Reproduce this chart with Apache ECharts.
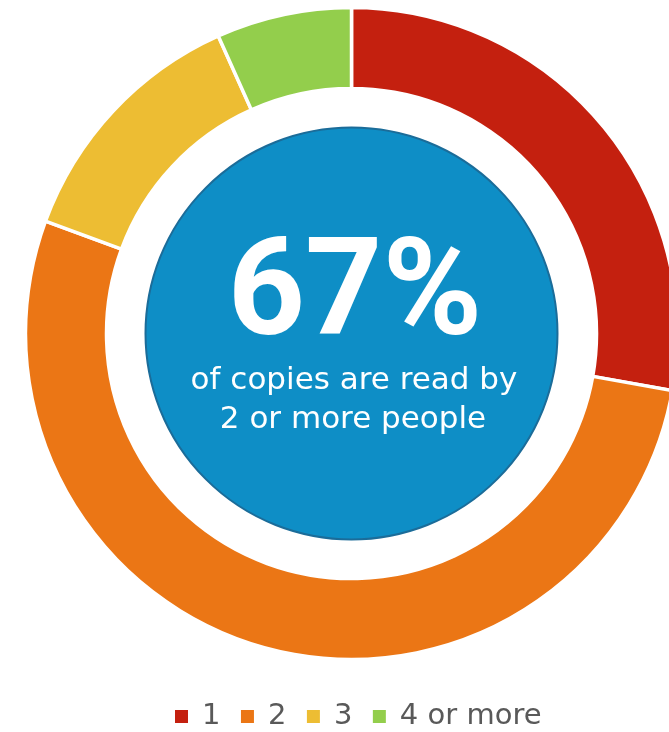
<!DOCTYPE html>
<html>
<head>
<meta charset="utf-8">
<script src="https://cdn.jsdelivr.net/npm/echarts@6/dist/echarts.min.js"></script>
<style>
  html, body { margin: 0; padding: 0; background: #ffffff; }
  #chart { width: 669px; height: 732px; }
</style>
</head>
<body>
<div id="chart"></div>
<script>
// Readers per copy: share of copies by number of people reading them
const categories = ['1', '2', '3', '4 or more'];
const shares = [27.8, 52.8, 12.7, 6.7];
const sliceColors = ['#C4200F', '#EB7615', '#EDBD33', '#93CE4C'];

const headline = '67%';
const captionLines = ['of copies are read by', '2 or more people'];

const cx = 351.5, cy = 333.5;

const chart = echarts.init(document.getElementById('chart'), null, { renderer: 'canvas' });

chart.setOption({
  backgroundColor: '#ffffff',
  animation: false,
  legend: {
    data: categories,
    top: 702,
    left: 175,
    padding: 0,
    icon: 'rect',
    itemWidth: 13,
    itemHeight: 13,
    itemGap: 20.5,
    itemStyle: { borderWidth: 0 },
    textStyle: {
      fontFamily: 'DejaVu Sans',
      fontSize: 29,
      color: '#595959',
      padding: [0, 0, 0, 9]
    }
  },
  series: [
    {
      type: 'pie',
      center: [cx, cy],
      radius: [245, 326],
      startAngle: 90,
      clockwise: true,
      silent: true,
      label: { show: false },
      labelLine: { show: false },
      itemStyle: { borderColor: '#ffffff', borderWidth: 3.5 },
      data: categories.map((name, i) => ({
        name: name,
        value: shares[i],
        itemStyle: { color: sliceColors[i] }
      }))
    },
    {
      type: 'pie',
      center: [cx, cy],
      radius: [0, 206],
      silent: true,
      label: { show: false },
      labelLine: { show: false },
      itemStyle: { color: '#0E8EC6', borderColor: '#1B6C99', borderWidth: 2 },
      data: [{ name: 'centre', value: 1 }]
    }
  ],
  graphic: [
    {
      type: 'text',
      x: 355,
      y: 300,
      z: 100,
      silent: true,
      style: {
        text: headline,
        fontFamily: 'Roboto',
        fontWeight: 'bold',
        fontSize: 135,
        fill: '#ffffff',
        align: 'center',
        verticalAlign: 'middle'
      }
    },
    {
      type: 'text',
      x: 354,
      y: 381,
      z: 100,
      silent: true,
      style: {
        text: captionLines[0],
        fontFamily: 'DejaVu Sans',
        fontSize: 31,
        fill: '#ffffff',
        align: 'center',
        verticalAlign: 'middle'
      }
    },
    {
      type: 'text',
      x: 353,
      y: 420,
      z: 100,
      silent: true,
      style: {
        text: captionLines[1],
        fontFamily: 'DejaVu Sans',
        fontSize: 31,
        fill: '#ffffff',
        align: 'center',
        verticalAlign: 'middle'
      }
    }
  ]
});
</script>
</body>
</html>
